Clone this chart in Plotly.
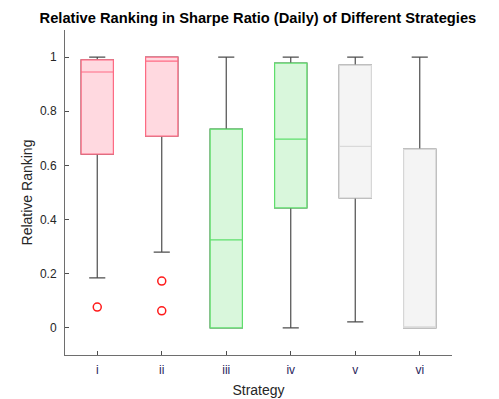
import plotly.graph_objects as go

# Box statistics
strategies = ['i', 'ii', 'iii', 'iv', 'v', 'vi']
q1 = [0.642, 0.708, 0.0, 0.443, 0.480, 0.0]
median = [0.945, 0.985, 0.325, 0.697, 0.670, 0.0]
q3 = [0.990, 1.000, 0.734, 0.978, 0.970, 0.660]
lower_fence = [0.185, 0.280, 0.0, 0.0, 0.022, 0.0]
upper_fence = [1.0, 1.0, 1.0, 1.0, 1.0, 1.0]

# Outliers
outlier_x = ['i', 'ii', 'ii']
outlier_y = [0.077, 0.173, 0.063]

edge_colors = ['#ff6b84', '#ff6b84', '#5fe06c', '#5fe06c', '#d9d9d9', '#d9d9d9']
fill_colors = ['#ffd9e0', '#ffd9e0', '#d9f7dc', '#d9f7dc', '#f4f4f4', '#f4f4f4']

fig = go.Figure()

# black whiskers (drawn underneath)
for i, s in enumerate(strategies):
    fig.add_trace(go.Box(
        x=[s], q1=[q1[i]], median=[median[i]], q3=[q3[i]],
        lowerfence=[lower_fence[i]], upperfence=[upper_fence[i]],
        width=0.5, whiskerwidth=0.5,
        line=dict(color='#4d4d4d', width=1.2),
        fillcolor='rgba(0,0,0,0)', boxpoints=False,
        showlegend=False, hoverinfo='skip'
    ))

# coloured boxes on top
for i, s in enumerate(strategies):
    fig.add_trace(go.Box(
        x=[s], q1=[q1[i]], median=[median[i]], q3=[q3[i]],
        lowerfence=[q1[i]], upperfence=[q3[i]],
        width=0.5, whiskerwidth=0,
        line=dict(color=edge_colors[i], width=1.2),
        fillcolor=fill_colors[i], boxpoints=False,
        showlegend=False
    ))

fig.add_trace(go.Scatter(
    x=outlier_x, y=outlier_y, mode='markers',
    marker=dict(symbol='circle-open', color='#ff1a1a', size=8, line=dict(width=1.5)),
    showlegend=False
))

# page body has an 8px margin, so the figure is a bit smaller than the window
fig.update_layout(
    width=491, height=391,
    boxmode='overlay',
    paper_bgcolor='white', plot_bgcolor='white',
    margin=dict(l=57, r=47, t=22, b=44),
    font=dict(family='Liberation Sans, Arial', size=12, color='#262626'),
    title=dict(text='<b>Relative Ranking in Sharpe Ratio (Daily) of Different Strategies</b>',
               x=0.509, xanchor='center', y=0.974, yanchor='middle',
               font=dict(size=14.7, color='black')),
)

fig.update_xaxes(
    title=dict(text='Strategy', font=dict(size=14), standoff=8),
    automargin=False,
    categoryorder='array', categoryarray=strategies,
    range=[-0.5, 5.5],
    showline=True, linecolor='#6e6e6e', linewidth=1,
    ticks='inside', ticklen=4, tickcolor='#4d4d4d',
    ticklabelstandoff=4,
    showgrid=False, zeroline=False,
    tickfont=dict(color='#2b1f5c', size=12)
)
fig.update_yaxes(
    title=dict(text='Relative Ranking', font=dict(size=14), standoff=4),
    automargin=False,
    range=[-0.1, 1.1],
    tickvals=[0, 0.2, 0.4, 0.6, 0.8, 1],
    ticktext=['0', '0.2', '0.4', '0.6', '0.8', '1'],
    showline=True, linecolor='#6e6e6e', linewidth=1,
    ticks='inside', ticklen=4, tickcolor='#4d4d4d',
    ticklabelstandoff=5,
    showgrid=False, zeroline=False,
    tickfont=dict(color='#262626', size=12)
)

fig.write_html('out.html')
